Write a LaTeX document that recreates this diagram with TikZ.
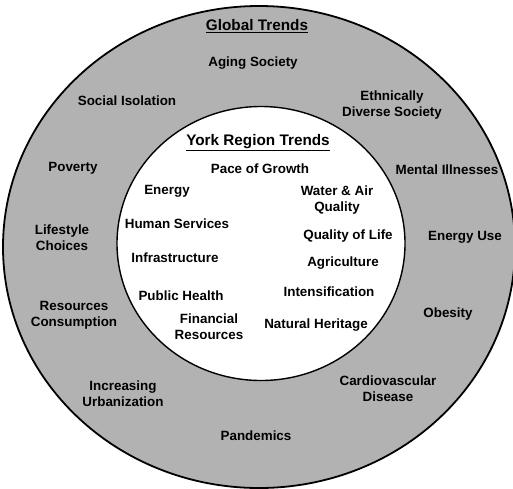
\documentclass[tikz,border=0pt]{standalone}
\usepackage{fontspec}
\setmainfont{Liberation Sans}
\begin{document}
\begin{tikzpicture}[x=1pt,y=-1pt,
  item/.style={font=\fontsize{13.4}{16}\selectfont\bfseries, align=center, inner sep=0pt},
  ttl/.style={font=\fontsize{15.3}{17}\selectfont\bfseries, align=center, inner sep=0pt}]
\useasboundingbox (0,0) rectangle (513,488);
\path[draw=black, line width=1.8pt, fill=black!30] (259,247) ellipse [x radius=256, y radius=241];
\path[draw=black, line width=1.4pt, fill=white] (261,243.5) ellipse [x radius=144, y radius=137];
% global
\node[ttl] (gt) at (257,26) {\underline{Global Trends}};
\node[item] (g1) at (253,63) {Aging Society};
\node[item] (g2) at (127,101) {Social Isolation};
\node[item] (g3) at (392,105) {Ethnically\\Diverse Society};
\node[item] (g4) at (73,168) {Poverty};
\node[item] (g5) at (447,170) {Mental Illnesses};
\node[item] (g6) at (62,238) {Lifestyle\\Choices};
\node[item] (g7) at (465,237) {Energy Use};
\node[item] (g8) at (74,315) {Resources\\Consumption};
\node[item] (g9) at (448,314) {Obesity};
\node[item] (g10) at (123,394) {Increasing\\Urbanization};
\node[item] (g11) at (388,389) {Cardiovascular\\Disease};
\node[item] (g12) at (256,436) {Pandemics};
% york
\node[ttl] (yt) at (258,143) {\underline{York Region Trends}};
\node[item] (y1) at (260,169) {Pace of Growth};
\node[item] (y2) at (167,191) {Energy};
\node[item] (y3) at (337,200) {Water \& Air\\Quality};
\node[item] (y4) at (177,224) {Human Services};
\node[item] (y5) at (348,236) {Quality of Life};
\node[item] (y6) at (175,258) {Infrastructure};
\node[item] (y7) at (343,263) {Agriculture};
\node[item] (y8) at (329,292) {Intensification};
\node[item] (y9) at (181,296) {Public Health};
\node[item] (y10) at (209,327) {Financial\\Resources};
\node[item] (y11) at (316,325) {Natural Heritage};
\end{tikzpicture}
\end{document}
